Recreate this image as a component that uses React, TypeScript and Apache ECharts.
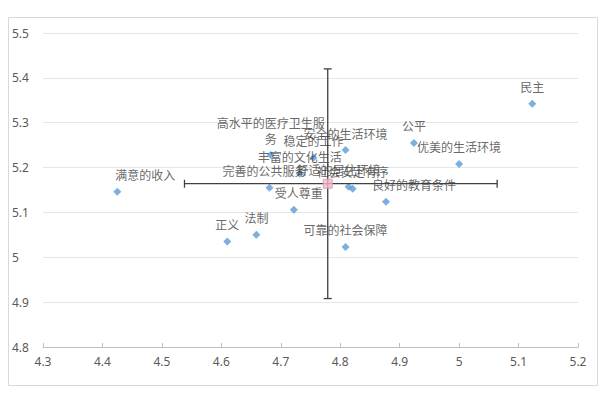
import React, { useEffect, useRef } from "react";
import * as echarts from "echarts";

// ---- data ----
const names = [
  "民主", "公平", "优美的生活环境", "安全的生活环境", "高水平的医疗卫生服务",
  "稳定的工作", "丰富的文化生活", "完善的公共服务", "舒适的居住环境", "社会安定有序",
  "良好的教育条件", "受人尊重", "满意的收入", "正义", "法制", "可靠的社会保障",
];
const xValues = [5.123, 4.924, 5.0, 4.809, 4.683, 4.755, 4.732, 4.681, 4.814, 4.821, 4.877, 4.722, 4.425, 4.61, 4.659, 4.809];
const yValues = [5.342, 5.255, 5.208, 5.239, 5.228, 5.222, 5.186, 5.155, 5.157, 5.153, 5.124, 5.106, 5.146, 5.035, 5.05, 5.023];

const meanX = 4.779;
const meanY = 5.164;
const xErrMinus = 0.241;
const xErrPlus = 0.285;
const yErr = 0.256;

const xTicks = [4.3, 4.4, 4.5, 4.6, 4.7, 4.8, 4.9, 5, 5.1, 5.2];
const yTicks = [4.8, 4.9, 5, 5.1, 5.2, 5.3, 5.4, 5.5];

// ---- label placement tweaks (styling only) ----
const labelOffsets: Record<string, [number, number]> = {
  "完善的公共服务": [-5, 0],
  "舒适的居住环境": [-10, 0],
  "良好的教育条件": [28, 0],
  "受人尊重": [5, 0],
  "满意的收入": [28, 0],
};

const fmt = (v: number) => String(+(+v).toFixed(1));

export default function App() {
  const ref = useRef<HTMLDivElement>(null);
  useEffect(() => {
    if (!ref.current) return;
    const chart = echarts.init(ref.current, undefined, { renderer: "svg" });
    const labelFont = "'Noto Sans CJK SC', 'Noto Sans', sans-serif";
    const data = names.map((n, i) => {
      const item: any = { name: n, value: [xValues[i], yValues[i]] };
      const off = labelOffsets[n];
      if (off) item.label = { offset: off };
      if (n === "高水平的医疗卫生服务") item.label = { width: 110, overflow: "break" };
      return item;
    });
    chart.setOption({
      animation: false,
      backgroundColor: "#ffffff",
      graphic: [
        {
          type: "rect",
          shape: { x: 8.5, y: 17.5, width: 589, height: 368 },
          style: { fill: "none", stroke: "#d9d9d9", lineWidth: 1 },
          silent: true,
        },
      ],
      grid: { left: 43, right: 22, top: 33, bottom: 46, containLabel: false },
      xAxis: {
        type: "value",
        min: xTicks[0],
        max: xTicks[xTicks.length - 1],
        interval: 0.1,
        axisLine: { show: true, onZero: false, lineStyle: { color: "#bfbfbf", width: 1 } },
        axisTick: { show: true, inside: true, length: 4, lineStyle: { color: "#bfbfbf" } },
        splitLine: { show: false },
        axisLabel: {
          color: "#595959",
          fontSize: 12,
          fontFamily: "'Noto Sans', sans-serif",
          margin: 8,
          formatter: (v: number) => fmt(v),
        },
      },
      yAxis: {
        type: "value",
        min: yTicks[0],
        max: yTicks[yTicks.length - 1],
        interval: 0.1,
        axisLine: { show: false },
        axisTick: { show: false },
        splitLine: { show: true, lineStyle: { color: "#e6e6e6", width: 1 } },
        axisLabel: {
          color: "#595959",
          fontSize: 12,
          fontFamily: "'Noto Sans', sans-serif",
          align: "left",
          margin: 31,
          formatter: (v: number) => fmt(v),
        },
      },
      series: [
        {
          type: "custom",
          z: 3,
          silent: true,
          encode: { x: [0, 2, 3], y: [1, 4, 5] },
          data: [[meanX, meanY, meanX - xErrMinus, meanX + xErrPlus, meanY - yErr, meanY + yErr]],
          renderItem: (params: any, api: any) => {
            const l = api.coord([api.value(2), api.value(1)]);
            const r = api.coord([api.value(3), api.value(1)]);
            const b = api.coord([api.value(0), api.value(4)]);
            const t = api.coord([api.value(0), api.value(5)]);
            const style = { stroke: "#404040", lineWidth: 1.3 };
            const cap = 4;
            return {
              type: "group",
              children: [
                { type: "line", shape: { x1: l[0], y1: l[1], x2: r[0], y2: r[1] }, style },
                { type: "line", shape: { x1: l[0], y1: l[1] - cap, x2: l[0], y2: l[1] + cap }, style },
                { type: "line", shape: { x1: r[0], y1: r[1] - cap, x2: r[0], y2: r[1] + cap }, style },
                { type: "line", shape: { x1: t[0], y1: t[1], x2: b[0], y2: b[1] }, style },
                { type: "line", shape: { x1: t[0] - cap, y1: t[1], x2: t[0] + cap, y2: t[1] }, style },
                { type: "line", shape: { x1: b[0] - cap, y1: b[1], x2: b[0] + cap, y2: b[1] }, style },
              ],
            };
          },
        },
        {
          type: "scatter",
          z: 2,
          symbol: "diamond",
          symbolSize: 8,
          itemStyle: { color: "#5b9bd5" },
          label: {
            show: true,
            position: "top",
            distance: 5,
            formatter: "{b}",
            color: "#404040",
            fontSize: 12,
            lineHeight: 16,
            fontFamily: labelFont,
          },
          data,
        },
        {
          type: "scatter",
          z: 4,
          symbol: "rect",
          symbolSize: 9,
          itemStyle: { color: "#f4b8cc", borderColor: "#e58fb0", borderWidth: 1 },
          data: [[meanX, meanY]],
        },
      ],
    });
    return () => chart.dispose();
  }, []);
  return (
    <div
      ref={ref}
      style={{ position: "fixed", left: 0, top: 0, width: 600, height: 393, background: "#fff" }}
    />
  );
}
